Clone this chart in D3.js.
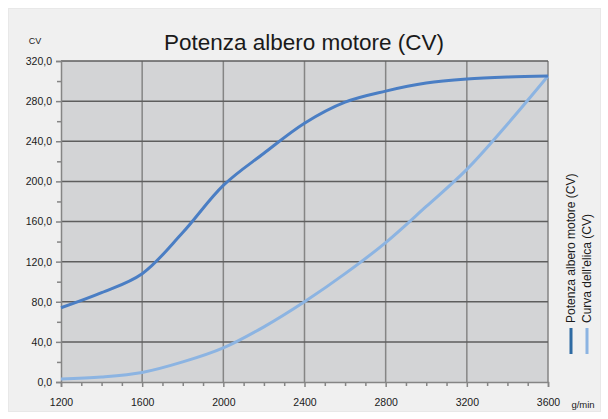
<!DOCTYPE html>
<html>
<head>
<meta charset="utf-8">
<script src="https://cdn.jsdelivr.net/npm/d3@7"></script>
<style>
  html, body { margin: 0; padding: 0; background: #fff; }
  text { font-family: "Liberation Sans", Arial, sans-serif; fill: #1a1a1a; }
</style>
</head>
<body>
<div id="chart"></div>
<script>
const rpm = [1200, 1400, 1600, 1800, 2000, 2200, 2400, 2600, 2800, 3000, 3200, 3400, 3600];
const potenzaMotore = [74, 89, 108, 149, 196, 228, 258, 279, 290, 298, 302, 304, 305];
const curvaElica = [3, 5, 9.5, 20, 34, 55, 80, 108, 139, 175, 212, 257, 305];
const yTicks = [0, 40, 80, 120, 160, 200, 240, 280, 320];
const xTicks = [1200, 1600, 2000, 2400, 2800, 3200, 3600];
const seriesNames = ["Potenza albero motore (CV)", "Curva dell'elica (CV)"];

const width = 608, height = 419;
const margin = { top: 61, right: 60, bottom: 37, left: 61 };

const svg = d3.select("#chart").append("svg")
  .attr("width", width).attr("height", height);

// chart area background
svg.append("rect")
  .attr("x", 8.5).attr("y", 8.5).attr("width", 592).attr("height", 403)
  .attr("fill", "#f0f0f0").attr("stroke", "#e8e8e8");

const x = d3.scaleLinear().domain([1200, 3600]).range([margin.left, width - margin.right]);
const y = d3.scaleLinear().domain([0, 320]).range([height - margin.bottom, margin.top]);

// plot area
svg.append("rect")
  .attr("x", x(1200)).attr("y", y(320))
  .attr("width", x(3600) - x(1200)).attr("height", y(0) - y(320))
  .attr("fill", "#d3d4d6");

// vertical grid
svg.append("g").selectAll("line")
  .data(xTicks.slice(1))
  .join("line")
  .attr("x1", d => x(d)).attr("x2", d => x(d))
  .attr("y1", y(0)).attr("y2", y(320))
  .attr("stroke", "#858585").attr("stroke-width", 1.5);

// horizontal grid
svg.append("g").selectAll("line")
  .data(yTicks.slice(1))
  .join("line")
  .attr("x1", x(1200)).attr("x2", x(3600))
  .attr("y1", d => y(d)).attr("y2", d => y(d))
  .attr("stroke", "#5e5e5e").attr("stroke-width", 1.5);

// y axis
svg.append("g")
  .attr("transform", `translate(${x(1200)},0)`)
  .call(d3.axisLeft(y).tickValues(yTicks).tickSize(5).tickPadding(4)
    .tickFormat(d => d3.format(".1f")(d).replace(".", ",")));
svg.append("g")
  .attr("transform", `translate(${x(1200)},0)`)
  .call(d3.axisLeft(y).tickValues(d3.range(20, 320, 40)).tickSize(4).tickFormat(""))
  .call(g => g.select(".domain").remove());

// x axis
svg.append("g")
  .attr("transform", `translate(0,${y(0)})`)
  .call(d3.axisBottom(x).tickValues(xTicks).tickSize(5).tickPadding(12).tickFormat(d3.format("d")));
svg.append("g")
  .attr("transform", `translate(0,${y(0)})`)
  .call(d3.axisBottom(x).tickValues(d3.range(1300, 3600, 100).filter(d => d % 400 !== 0)).tickSize(4).tickFormat(""))
  .call(g => g.select(".domain").remove());

svg.selectAll(".domain, .tick line").attr("stroke", "#858585").attr("stroke-width", 1.5);
svg.selectAll(".tick text").attr("font-size", 10.5).attr("fill", "#1a1a1a")
  .style("font-family", "'Liberation Sans', Arial, sans-serif");

// series
const line = d3.line()
  .x((d, i) => x(rpm[i]))
  .y(d => y(d))
  .curve(d3.curveCatmullRom.alpha(0.5));

svg.append("path").datum(curvaElica)
  .attr("d", line).attr("fill", "none")
  .attr("stroke", "#8cb4e2").attr("stroke-width", 3);
svg.append("path").datum(potenzaMotore)
  .attr("d", line).attr("fill", "none")
  .attr("stroke", "#4a7ec4").attr("stroke-width", 3);

// title and axis names
svg.append("text")
  .attr("x", 304).attr("y", 50).attr("text-anchor", "middle")
  .attr("font-size", 22.5).text("Potenza albero motore (CV)");
svg.append("text")
  .attr("x", 35).attr("y", 44).attr("text-anchor", "middle")
  .attr("font-size", 9).text("CV");
svg.append("text")
  .attr("x", 583).attr("y", 408).attr("text-anchor", "middle")
  .attr("font-size", 9.5).text("g/min");

// legend
const legendColors = ["#2f6ba3", "#8cb4e2"];
const legend = svg.append("g").selectAll("g")
  .data(seriesNames)
  .join("g")
  .attr("transform", (d, i) => `translate(${571 + i * 16},0)`);
legend.append("line")
  .attr("x1", 0).attr("x2", 0).attr("y1", 328).attr("y2", 354)
  .attr("stroke", (d, i) => legendColors[i]).attr("stroke-width", 3);
legend.append("text")
  .attr("transform", "translate(4,323) rotate(-90)")
  .attr("font-size", 12).text(d => d);
</script>
</body>
</html>
